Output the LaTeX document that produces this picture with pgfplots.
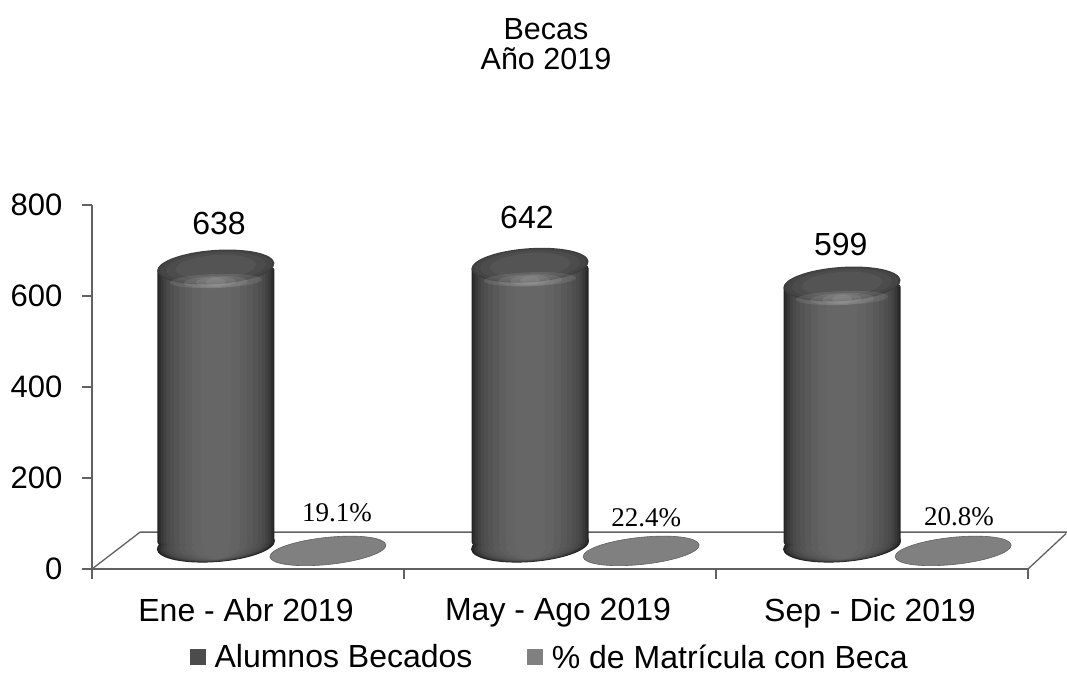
\documentclass[border=0pt]{standalone}
\usepackage{pgfplots}
\pgfplotsset{compat=1.18}
\usepackage{fontspec}
\setmainfont{Liberation Sans}
\newfontfamily\labelserif{Liberation Serif}
\definecolor{cyldark}{gray}{0.30}
\definecolor{diskgray}{gray}{0.50}
\definecolor{floorline}{gray}{0.38}
\newcommand\layerell[4]{% x radius, y radius, tilt, gray
  \definecolor{tmpc}{gray}{#4}\pgfsetfillcolor{tmpc}%
  \pgfpathellipse{\pgfpointorigin}{\pgfpoint{#1pt}{#3pt}}{\pgfpoint{-1.5pt}{#2pt}}\pgfusepathqfill}
\pgfdeclareplotmark{cyltop}{%
  \pgfsetfillopacity{1}%
  \layerell{58.5}{17}{4.0}{0.24}%
  \layerell{56}{16}{3.8}{0.27}%
  \layerell{50}{14.5}{3.4}{0.30}%
  \layerell{40}{12}{2.8}{0.33}%
  \definecolor{tmpc}{gray}{0.72}\pgfsetfillcolor{tmpc}\pgfsetfillopacity{0.16}%
  \pgfpathellipse{\pgfpoint{0pt}{-14pt}}{\pgfpoint{46pt}{1.5pt}}{\pgfpoint{0pt}{7pt}}\pgfusepathqfill
  \pgfpathellipse{\pgfpoint{0pt}{-15pt}}{\pgfpoint{32pt}{1pt}}{\pgfpoint{0pt}{6pt}}\pgfusepathqfill
  \pgfpathellipse{\pgfpoint{0pt}{-15pt}}{\pgfpoint{20pt}{0.6pt}}{\pgfpoint{0pt}{5pt}}\pgfusepathqfill
  \pgfpathellipse{\pgfpoint{0pt}{-15pt}}{\pgfpoint{10pt}{0.3pt}}{\pgfpoint{0pt}{4pt}}\pgfusepathqfill
  \pgfsetfillopacity{1}%
}
\pgfdeclareplotmark{cylbase}{%
  \pgfsetfillopacity{1}%
  \layerell{59}{17}{4.5}{0.14}%
  \layerell{57}{16.5}{4.3}{0.18}%
  \layerell{55}{16.3}{4.2}{0.22}%
  \layerell{52.5}{16}{4.0}{0.26}%
  \layerell{49.5}{15.7}{3.8}{0.29}%
  \layerell{46}{15.4}{3.5}{0.31}%
  \layerell{42}{15.1}{3.2}{0.33}%
  \layerell{37}{14.8}{2.8}{0.35}%
  \layerell{31}{14.5}{2.4}{0.37}%
  \layerell{24}{14.2}{1.9}{0.39}%
  \layerell{15}{14}{1.2}{0.40}%
}
\pgfdeclareplotmark{disk}{%
  \pgfsetfillopacity{1}%
  \pgfsetfillcolor{diskgray}%
  \pgfsetstrokecolor{gray!75!black}\pgfsetlinewidth{0.6pt}%
  \pgfpathellipse{\pgfpoint{0pt}{-6pt}}{\pgfpoint{58pt}{6pt}}{\pgfpoint{-1.2pt}{13.5pt}}\pgfusepathqfillstroke
}
\pgfplotstableread{
x     y
0.397 638
1.404 642
2.404 599
}\becados
\pgfplotstableread{
x     y
0.397 0
1.404 0
2.404 0
}\bases
\pgfplotstableread{
x     y
0.756 0.191
1.760 0.224
2.760 0.208
}\matricula
\pgfplotstableread{
x     y   label
0.407 738 638
1.394 751 642
2.400 689 599
}\labelsA
\pgfplotstableread{
x     y  label
0.785 74 19.1\%
1.776 63 22.4\%
2.779 65 20.8\%
}\labelsB
\newcommand\cylbar[2]{%
  \addplot[ybar, bar width=#1pt, bar shift=0pt, draw=none, fill={black!#2}, rounded corners=3pt, forget plot] table[x=x,y=y] {\becados};}
\begin{document}
\begin{tikzpicture}[x=1pt,y=1pt]
\useasboundingbox (0,0) rectangle (1067,675);
\begin{axis}[
  at={(92pt,106pt)}, anchor=south west,
  scale only axis, width=936pt, height=364pt,
  xmin=0, xmax=3, ymin=0, ymax=800,
  axis x line=bottom, axis y line=left,
  axis line style={-, draw=floorline, line width=1.3pt},
  clip=false,
  tick align=outside,
  xtick={0.5,1.5,2.5},
  xticklabels={Ene - Abr 2019, May - Ago 2019, Sep - Dic 2019},
  minor xtick={0,1,2,3},
  major x tick style={draw=none},
  minor tick length=10pt,
  minor x tick style={draw=floorline, line width=1.2pt},
  ytick={0,200,400,600,800},
  major tick length=10pt,
  y tick style={draw=floorline, line width=1.2pt},
  /pgf/number format/assume math mode=true,
  tick label style={font=\fontsize{31}{34}\selectfont},
  yticklabel style={xshift=-16pt},
  xticklabel style={yshift=-16pt, xshift=-2pt, text depth=0pt, font=\fontsize{32}{34}\selectfont},
  title={Becas\\Año 2019},
  title style={at={(axis cs:1.455,1140)}, anchor=center, align=center,
    font=\fontsize{30.5}{29.5}\selectfont},
]
\addplot[floorline, line width=1.3pt, line join=round] coordinates {(0,0) (0.154,81) (3.125,81)};
\addplot[floorline, line width=1.3pt] coordinates {(3,0) (3.122,78)};
\end{axis}
\begin{axis}[
  at={(92pt,106pt)}, anchor=south west,
  scale only axis, width=936pt, height=364pt,
  xmin=0, xmax=3, ymin=-55.1, ymax=780.3,
  hide axis, clip=false,
]
\addplot[only marks, mark=cylbase, forget plot] table[x=x,y=y] {\bases};
\end{axis}
\begin{axis}[
  at={(92pt,106pt)}, anchor=south west,
  scale only axis, width=936pt, height=364pt,
  xmin=0, xmax=3, ymin=-55.1, ymax=780.3,
  hide axis, clip=false,
  legend columns=2,
  legend style={at={(axis cs:0.314,-257)}, anchor=west, draw=none, fill=none,
    font=\fontsize{32}{34}\selectfont, inner sep=0pt,
    /tikz/every even column/.append style={column sep=53pt}},
  legend cell align=left,
]
\addlegendimage{legend image code/.code={\fill[cyldark] (0pt,-7pt) rectangle (15pt,8pt);}}
\addlegendentry{\hspace*{7pt}Alumnos Becados}
\addlegendimage{legend image code/.code={\fill[diskgray] (0pt,-7pt) rectangle (15pt,8pt);}}
\addlegendentry{\hspace*{7pt}\% de Matrícula con Beca}
\cylbar{117}{86}\cylbar{114}{82}\cylbar{110}{78}\cylbar{105}{74}\cylbar{99}{71}
\cylbar{92}{69}\cylbar{84}{67}\cylbar{74}{65}\cylbar{62}{63}\cylbar{48}{61}\cylbar{30}{60}
\addplot[only marks, mark=cyltop, forget plot] table[x=x,y=y] {\becados};
\addplot[only marks, mark=disk, forget plot] table[x=x,y=y] {\matricula};
\addplot[only marks, mark=none, forget plot, point meta=explicit symbolic,
  nodes near coords,
  every node near coord/.append style={anchor=center, font=\fontsize{32}{34}\selectfont}]
  table[x=x,y=y,meta=label] {\labelsA};
\addplot[only marks, mark=none, forget plot, point meta=explicit symbolic,
  nodes near coords,
  every node near coord/.append style={anchor=center, font=\labelserif\fontsize{27}{28}\selectfont}]
  table[x=x,y=y,meta=label] {\labelsB};
\end{axis}
\end{tikzpicture}
\end{document}
